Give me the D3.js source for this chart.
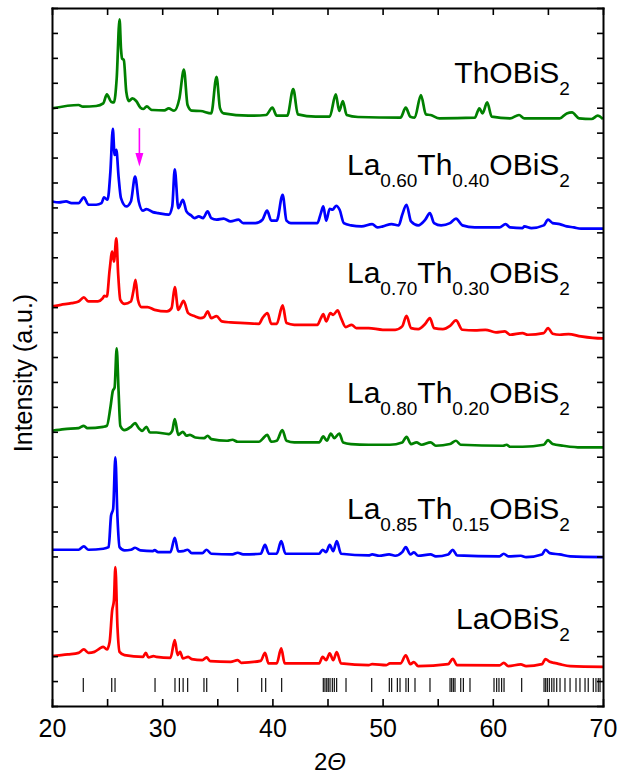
<!DOCTYPE html>
<html>
<head>
<meta charset="utf-8">
<script src="https://cdn.jsdelivr.net/npm/d3@7"></script>
<style>
  body { margin: 0; background: #fff; }
  svg { display: block; font-family: "Liberation Sans", Arial, sans-serif; }
</style>
</head>
<body>
<svg id="chart_svg" width="618" height="774"></svg>
<script>
// XRD patterns: [2theta, intensity (a.u., stacked)]
const thOBiS2 = [
  [20.00, 599.3], [22.41, 602.7], [22.8, 601.0], [24.01, 601.7], [24.65, 604.3], [24.98, 613.3],
  [25.36, 606.0], [25.62, 605.3], [25.87, 629.3], [26.13, 688.7], [26.26, 659.3], [26.36, 649.3],
  [26.52, 647.7], [26.74, 616.0], [26.97, 606.7], [27.29, 609.3], [27.64, 606.7], [28.03, 600.0],
  [28.30, 598.7], [28.60, 601.3], [29.00, 598.0], [29.15, 597.7], [30.20, 597.3], [30.59, 599.3],
  [31.08, 597.0], [31.56, 609.3], [31.97, 638.3], [32.30, 602.7], [32.68, 597.0], [33.48, 596.7],
  [34.45, 594.3], [34.93, 631.0], [35.25, 599.3], [35.57, 594.3], [37.82, 592.0], [39.42, 592.7],
  [40.00, 600.0], [40.39, 592.0], [41.35, 592.0], [41.89, 618.7], [42.31, 593.3], [43.92, 591.0],
  [45.20, 591.0], [45.75, 613.3], [46.07, 596.7], [46.39, 606.7], [46.74, 592.7], [47.77, 590.7],
  [51.62, 590.0], [52.10, 600.0], [52.52, 591.0], [52.91, 590.0], [53.48, 612.7], [53.93, 593.3],
  [54.35, 592.7], [55.15, 589.3], [58.36, 590.0], [58.78, 599.3], [59.07, 594.3], [59.49, 605.3],
  [59.90, 591.0], [61.57, 589.3], [62.38, 592.7], [62.86, 589.3], [66.07, 589.3], [66.71, 594.3],
  [67.19, 595.3], [67.83, 589.3], [68.96, 588.7], [69.53, 592.0], [70.00, 588.7]
];

const la60th40 = [
  [20.00, 506.0], [20.64, 505.0], [21.28, 506.0], [21.77, 504.3], [22.41, 504.3], [22.89, 510.0],
  [23.31, 502.7], [24.01, 502.7], [24.49, 504.3], [24.72, 510.0], [25.04, 507.7], [25.30, 536.0],
  [25.52, 578.7], [25.68, 552.7], [25.84, 557.7], [26.04, 531.0], [26.26, 509.3], [26.74, 501.0],
  [27.16, 506.0], [27.54, 531.0], [27.87, 506.0], [28.25, 496.7], [28.57, 498.3], [29.15, 495.3],
  [29.63, 494.3], [30.59, 492.7], [30.91, 501.0], [31.14, 538.3], [31.46, 499.3], [31.88, 507.7],
  [32.20, 496.0], [32.62, 492.0], [32.94, 489.3], [33.32, 491.0], [33.71, 489.3], [34.12, 496.0],
  [34.45, 489.3], [34.93, 487.7], [35.57, 488.7], [36.21, 486.0], [36.92, 487.7], [37.34, 484.3],
  [38.46, 484.3], [39.10, 487.7], [39.52, 496.7], [39.90, 486.7], [40.39, 486.7], [40.93, 512.7],
  [41.28, 486.7], [41.67, 484.3], [44.08, 484.3], [44.40, 494.3], [44.62, 501.0], [44.88, 486.7],
  [45.20, 498.7], [45.46, 497.7], [45.78, 501.7], [46.10, 497.7], [46.48, 484.3], [47.13, 482.0],
  [48.09, 481.0], [49.05, 483.3], [49.53, 480.0], [50.02, 481.0], [50.82, 483.3], [51.46, 482.0],
  [51.78, 492.7], [52.17, 502.7], [52.58, 486.0], [53.23, 482.0], [53.87, 487.7], [54.29, 494.3],
  [54.67, 484.3], [55.31, 482.0], [56.12, 484.3], [56.66, 488.7], [57.24, 482.0], [58.36, 480.0],
  [60.61, 480.0], [61.16, 483.3], [61.57, 480.0], [62.70, 479.3], [62.86, 481.0], [63.50, 479.3],
  [64.62, 482.0], [65.01, 487.7], [65.43, 484.3], [66.07, 483.3], [66.71, 481.0], [67.35, 480.0],
  [67.99, 478.7], [70.00, 478.7]
];

const la70th30 = [
  [20.00, 400.7], [20.80, 402.3], [21.77, 404.0], [22.41, 405.7], [22.89, 409.7], [23.31, 405.7],
  [24.17, 405.7], [24.59, 408.7], [24.75, 411.3], [24.98, 410.7], [25.23, 437.3], [25.46, 455.7],
  [25.62, 445.7], [25.84, 469.0], [26.00, 434.0], [26.20, 407.3], [26.58, 403.3], [27.16, 405.7],
  [27.38, 415.7], [27.58, 427.3], [27.80, 407.3], [28.12, 400.0], [28.67, 400.0], [29.31, 397.3],
  [30.43, 395.7], [30.85, 399.0], [31.14, 420.0], [31.46, 397.3], [31.94, 406.3], [32.36, 394.0],
  [33.00, 390.7], [33.48, 389.0], [33.80, 390.0], [34.12, 395.7], [34.45, 389.0], [34.93, 391.0],
  [35.41, 385.7], [36.21, 384.7], [37.50, 384.0], [38.78, 383.3], [39.10, 389.0], [39.55, 394.0],
  [39.90, 383.3], [40.39, 383.3], [40.93, 401.7], [41.28, 384.0], [41.99, 382.3], [44.08, 382.3],
  [44.40, 389.0], [44.62, 393.0], [44.88, 385.7], [45.26, 394.0], [45.52, 392.3], [45.91, 396.7],
  [46.23, 389.0], [46.65, 380.0], [47.19, 382.3], [47.61, 379.0], [48.73, 379.0], [50.02, 377.3],
  [51.14, 377.3], [51.78, 380.7], [52.17, 391.3], [52.58, 379.0], [53.23, 378.0], [53.87, 383.3],
  [54.29, 389.0], [54.67, 379.0], [55.47, 378.0], [56.12, 381.3], [56.66, 386.7], [57.24, 377.3],
  [58.36, 376.7], [59.33, 377.3], [60.29, 374.7], [61.09, 375.7], [61.57, 372.3], [62.70, 374.0],
  [63.18, 372.3], [64.62, 374.0], [65.01, 379.0], [65.43, 373.3], [66.07, 372.3], [66.87, 373.0],
  [67.99, 370.7], [69.92, 368.7], [70.00, 368.7]
];

const la80th20 = [
  [20.00, 276.0], [21.12, 277.7], [22.41, 278.7], [22.89, 281.0], [23.21, 278.7], [24.65, 280.0],
  [24.98, 281.0], [25.30, 299.3], [25.52, 316.0], [25.68, 319.3], [25.87, 358.7], [26.04, 316.0],
  [26.20, 281.0], [26.58, 276.7], [27.16, 280.0], [27.54, 283.7], [27.87, 278.7], [28.19, 276.0],
  [28.57, 280.0], [28.89, 274.3], [29.47, 274.3], [30.59, 272.7], [30.91, 276.0], [31.14, 287.7],
  [31.46, 272.0], [31.88, 275.0], [32.20, 271.0], [32.52, 272.0], [33.00, 269.3], [33.80, 268.7],
  [34.12, 271.0], [34.45, 267.7], [35.89, 266.0], [36.37, 267.0], [36.85, 265.0], [38.78, 265.0],
  [39.10, 267.7], [39.52, 272.0], [39.90, 265.0], [40.39, 266.0], [40.90, 276.7], [41.28, 266.0],
  [41.99, 264.3], [44.24, 264.3], [44.62, 270.3], [44.94, 266.0], [45.30, 273.3], [45.62, 268.7],
  [46.07, 273.3], [46.42, 264.3], [47.13, 262.7], [48.73, 262.0], [50.66, 262.0], [51.78, 264.3],
  [52.17, 270.0], [52.58, 262.7], [53.07, 264.3], [53.55, 262.0], [54.35, 264.3], [54.83, 261.0],
  [56.12, 262.7], [56.66, 266.0], [57.08, 262.0], [60.93, 261.0], [61.25, 262.0], [61.57, 260.0],
  [62.70, 260.0], [64.62, 262.0], [65.01, 266.7], [65.43, 262.7], [66.39, 261.0], [67.99, 259.3],
  [70.00, 259.3]
];

const la85th15 = [
  [20.00, 156.7], [22.41, 156.7], [22.89, 160.0], [23.31, 156.7], [24.65, 157.7], [25.14, 159.3],
  [25.36, 191.0], [25.55, 197.7], [25.75, 249.3], [25.94, 189.3], [26.13, 159.3], [26.58, 156.0],
  [27.16, 156.7], [27.54, 158.7], [28.03, 156.0], [29.15, 155.3], [29.31, 156.3], [29.63, 154.3],
  [30.75, 154.3], [31.14, 168.7], [31.46, 155.0], [31.88, 155.3], [32.30, 156.7], [32.68, 153.3],
  [33.64, 153.3], [34.03, 156.7], [34.45, 152.7], [36.37, 152.0], [36.85, 153.7], [37.34, 152.0],
  [38.94, 152.7], [39.33, 161.7], [39.68, 152.7], [40.39, 152.7], [40.80, 165.3], [41.19, 152.7],
  [44.24, 152.7], [44.56, 156.7], [44.88, 154.3], [45.20, 161.7], [45.52, 155.3], [45.84, 165.3],
  [46.23, 152.7], [48.73, 151.0], [49.05, 152.0], [49.70, 150.7], [50.59, 152.0], [51.14, 150.7],
  [51.78, 154.3], [52.10, 159.3], [52.52, 152.0], [52.84, 154.0], [53.23, 150.7], [54.35, 152.0],
  [54.83, 150.0], [55.95, 152.0], [56.37, 156.7], [56.76, 151.0], [60.61, 150.0], [60.99, 152.7],
  [61.41, 150.0], [62.54, 150.7], [63.02, 149.3], [64.46, 152.0], [64.78, 156.7], [65.17, 153.3],
  [66.07, 152.0], [67.03, 150.0], [70.00, 149.3]
];

const laOBiS2 = [
  [20.00, 50.0], [21.44, 51.7], [22.41, 53.3], [22.89, 56.7], [23.31, 53.3], [23.85, 54.3],
  [24.33, 57.7], [24.65, 59.3], [24.98, 56.7], [25.23, 64.3], [25.46, 96.0], [25.62, 106.0],
  [25.75, 139.3], [25.94, 79.3], [26.13, 54.3], [26.58, 51.0], [28.25, 49.3], [28.51, 53.3],
  [28.76, 48.7], [29.21, 50.0], [29.47, 49.3], [30.75, 48.3], [31.14, 66.0], [31.40, 51.0],
  [31.62, 54.3], [31.88, 47.7], [32.36, 49.3], [32.68, 47.0], [33.64, 46.0], [34.03, 48.7],
  [34.35, 45.0], [36.21, 44.3], [36.85, 46.0], [37.17, 43.3], [38.94, 45.3], [39.33, 53.3],
  [39.65, 42.7], [40.39, 42.7], [40.80, 57.7], [41.12, 42.7], [44.24, 42.7], [44.56, 49.3],
  [44.88, 46.0], [45.20, 52.7], [45.52, 46.0], [45.84, 54.0], [46.23, 42.7], [48.73, 41.0],
  [49.05, 42.0], [50.34, 41.0], [50.66, 42.7], [51.62, 42.7], [52.10, 50.7], [52.52, 42.0],
  [52.84, 44.0], [53.23, 40.0], [55.95, 42.0], [56.37, 47.3], [56.76, 41.0], [60.61, 40.7],
  [60.99, 43.3], [61.41, 40.0], [62.54, 41.7], [63.02, 40.0], [64.46, 42.0], [64.78, 47.0],
  [65.17, 44.3], [65.58, 43.3], [66.07, 42.0], [67.03, 40.0], [70.00, 39.3]
];

// calculated Bragg positions (tick marks under the patterns)
const braggPositions = [
  22.84, 25.42, 25.72, 29.35, 31.16, 31.56, 31.9, 32.31, 33.79, 34.04, 36.85, 39.03, 39.39, 40.84,
  44.62, 44.77, 44.93, 45.07, 45.23, 45.44, 45.62, 45.83, 46.68, 49.01, 50.61, 50.82, 51.34, 51.58,
  52.12, 52.34, 52.94, 54.30, 56.12, 56.27, 56.42, 56.57, 57.09, 57.33, 57.93, 60.11, 60.35, 60.56,
  60.80, 61.02, 62.62, 64.65, 64.80, 64.95, 65.13, 65.35, 65.55, 65.80, 66.10, 66.55, 67.01, 67.55,
  67.91, 68.37, 68.66, 69.12, 69.36, 69.57, 69.73
];

// sample names as [text, isSubscript] parts
const sampleNames = [
  [["ThOBiS", 0], ["2", 1]],
  [["La", 0], ["0.60", 1], ["Th", 0], ["0.40", 1], ["OBiS", 0], ["2", 1]],
  [["La", 0], ["0.70", 1], ["Th", 0], ["0.30", 1], ["OBiS", 0], ["2", 1]],
  [["La", 0], ["0.80", 1], ["Th", 0], ["0.20", 1], ["OBiS", 0], ["2", 1]],
  [["La", 0], ["0.85", 1], ["Th", 0], ["0.15", 1], ["OBiS", 0], ["2", 1]],
  [["LaOBiS", 0], ["2", 1]]
];
const sampleColors = ["#008000", "#0000ff", "#ff0000", "#008000", "#0000ff", "#ff0000"];
const samplePatterns = [thOBiS2, la60th40, la70th30, la80th20, la85th15, laOBiS2];

const xTicks = [20, 25, 30, 35, 40, 45, 50, 55, 60, 65, 70];

let svg = d3.select("#chart_svg");

const margin = { top: 8, right: 15, bottom: 68, left: 52 };
const width = 618, height = 774;

const xScale = d3.scaleLinear().domain([20, 70]).range([margin.left, width - margin.right]);
const yScale = d3.scaleLinear().domain([0, 700]).range([height - margin.bottom, margin.top]);

svg.append("defs").append("clipPath").attr("id", "plotclip")
  .append("rect")
  .attr("x", margin.left).attr("y", margin.top)
  .attr("width", width - margin.right - margin.left)
  .attr("height", height - margin.bottom - margin.top);

/**
 * Bragg tick marks
 */
svg.append("g")
  .selectAll("line")
  .data(braggPositions)
  .enter()
  .append("line")
  .attr("x1", (d) => xScale(d))
  .attr("x2", (d) => xScale(d))
  .attr("y1", yScale(28))
  .attr("y2", yScale(14))
  .attr("stroke", "#111")
  .attr("stroke-width", 1.2);

/**
 * The patterns
 */
let line = d3.line()
  .curve(d3.curveMonotoneX)
  .x((d) => xScale(d[0]))
  .y((d) => yScale(d[1]));

svg.append("g")
  .attr("clip-path", "url(#plotclip)")
  .selectAll("path")
  .data(samplePatterns)
  .enter()
  .append("path")
  .attr("fill", "none")
  .attr("stroke", (d, i) => sampleColors[i])
  .attr("stroke-width", 2.7)
  .attr("stroke-linejoin", "round")
  .attr("d", line);

/**
 * Axes: ticks point inward on all four sides
 */
function styleAxis(g) {
  g.select(".domain").attr("stroke", "#000").attr("stroke-width", 2).attr("stroke-linecap", "square");
  g.selectAll(".tick line").attr("stroke", "#000").attr("stroke-width", 1.6);
}

let x_axis = d3.axisBottom(xScale)
  .tickValues(xTicks)
  .tickSizeInner(-7).tickSizeOuter(0).tickPadding(13)
  .tickFormat((d) => (d % 10 === 0 ? d : ""));
svg.append("g")
  .attr("transform", "translate(0," + (height - margin.bottom) + ")")
  .call(x_axis)
  .call(styleAxis)
  .selectAll("text")
  .attr("font-size", 25)
  .attr("font-family", "Liberation Sans, Arial, sans-serif")
  .attr("fill", "#000");

svg.append("g")
  .attr("transform", "translate(0," + margin.top + ")")
  .call(d3.axisTop(xScale).tickValues(xTicks).tickSizeInner(-7).tickSizeOuter(0).tickFormat(""))
  .call(styleAxis);

const yTicks = d3.range(0, 701, 25);
svg.append("g")
  .attr("transform", "translate(" + margin.left + ",0)")
  .call(d3.axisLeft(yScale).tickValues(yTicks).tickSizeInner(-6).tickSizeOuter(0).tickFormat(""))
  .call(styleAxis);

svg.append("g")
  .attr("transform", "translate(" + (width - margin.right) + ",0)")
  .call(d3.axisRight(yScale).tickValues(yTicks).tickSizeInner(-6).tickSizeOuter(0).tickFormat(""))
  .call(styleAxis);

/**
 * Sample labels, right aligned
 */
const labelTheta = 67.0;
const labelBase = [624.3, 532.7, 424.5, 304.3, 188, 77.7];

sampleNames.forEach((parts, i) => {
  let t = svg.append("text")
    .attr("x", xScale(labelTheta))
    .attr("y", yScale(labelBase[i]))
    .attr("text-anchor", "end")
    .attr("font-size", 30)
    .attr("fill", "#000");
  let low = false;
  parts.forEach(([txt, sub]) => {
    let ts = t.append("tspan").text(txt);
    if (sub && !low) { ts.attr("dy", 12).attr("font-size", 19); low = true; }
    else if (sub) { ts.attr("font-size", 19); }
    else if (low) { ts.attr("dy", -12); low = false; }
  });
});

/**
 * Magenta arrow above the impurity peak
 */
const arrowTheta = 27.93;
const ax = xScale(arrowTheta);
svg.append("line")
  .attr("x1", ax).attr("x2", ax)
  .attr("y1", yScale(579.5)).attr("y2", yScale(553))
  .attr("stroke", "#ff00ff").attr("stroke-width", 1.6);
svg.append("path")
  .attr("d", "M" + (ax - 4) + "," + yScale(554.5) + "L" + (ax + 4) + "," + yScale(554.5) + "L" + ax + "," + yScale(541) + "Z")
  .attr("fill", "#ff00ff");

/**
 * Axis titles
 */
let x_label = svg.append("text")
  .attr("x", 330)
  .attr("y", 770)
  .attr("text-anchor", "middle")
  .attr("font-size", 24);
x_label.append("tspan").text("2");
x_label.append("tspan").attr("font-style", "italic").text("\u0398");

svg.append("text")
  .attr("transform", "translate(32,373) rotate(-90)")
  .attr("text-anchor", "middle")
  .attr("font-size", 25)
  .text("Intensity (a.u.)");
</script>
</body>
</html>
